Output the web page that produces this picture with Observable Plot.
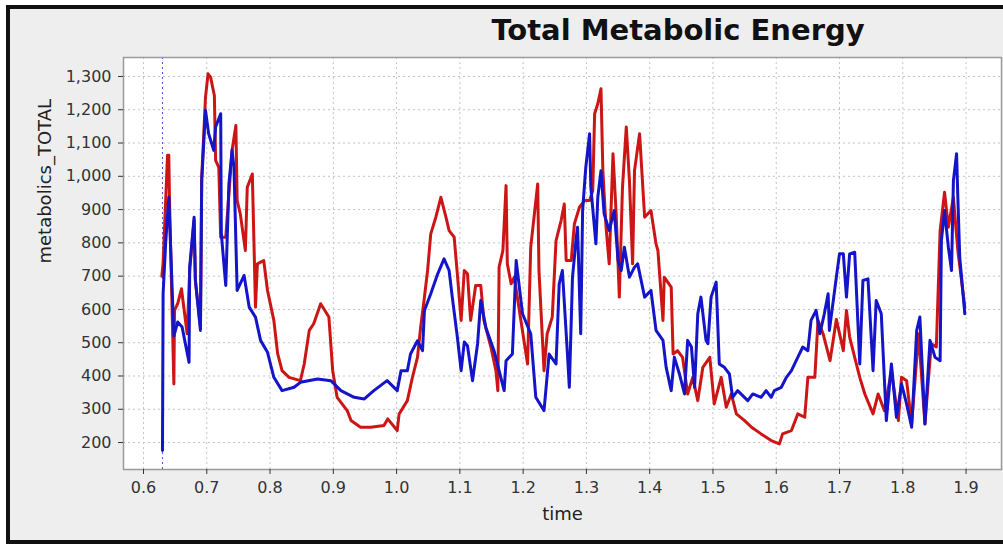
<!DOCTYPE html>
<html>
<head>
<meta charset="utf-8">
<script src="https://cdn.jsdelivr.net/npm/d3@7"></script>
<script src="https://cdn.jsdelivr.net/npm/@observablehq/plot@0.6"></script>
<style>
  html, body { margin: 0; padding: 0; background: #ffffff; overflow: hidden; }
  #wrap { position: relative; width: 1003px; height: 544px; overflow: hidden; }
  #panel { position: absolute; left: 6px; top: 5px; width: 1010px; height: 531px;
           border-left: 4px solid #111; border-top: 4px solid #111; border-bottom: 4px solid #111;
           background: #eeeeee; }
  #title { position: absolute; left: 678px; top: 16px; transform: translateX(-50%);
           font-family: "DejaVu Sans", sans-serif; font-weight: bold; font-size: 29px;
           line-height: 29px; color: #111; white-space: nowrap; }
  #chart { position: absolute; left: 0; top: 0; }
</style>
</head>
<body>
<div id="wrap">
  <div id="panel"></div>
  <div id="title">Total Metabolic Energy</div>
  <div id="chart"></div>
</div>
<script>
const xTicks = [0.6, 0.7, 0.8, 0.9, 1.0, 1.1, 1.2, 1.3, 1.4, 1.5, 1.6, 1.7, 1.8, 1.9];
const yTicks = [200, 300, 400, 500, 600, 700, 800, 900, 1000, 1100, 1200, 1300];
const markerTime = [0.63];

// [time, metabolics_TOTAL]
const redSeries = [
  [0.629,700],[0.631,740],[0.638,1063],[0.640,1063],[0.641,937],[0.648,376],[0.649,597],[0.654,617],
  [0.660,662],[0.669,527],[0.673,717],[0.680,867],[0.682,687],[0.690,547],[0.692,997],[0.698,1238],
  [0.702,1308],[0.706,1298],[0.712,1243],[0.714,1048],[0.719,1027],[0.722,817],[0.730,817],[0.740,1078],
  [0.746,1153],[0.748,927],[0.753,887],[0.761,777],[0.764,967],[0.772,1007],[0.777,607],[0.780,737],
  [0.790,747],[0.796,657],[0.806,567],[0.812,467],[0.819,416],[0.830,396],[0.848,386],[0.854,436],
  [0.862,537],[0.869,557],[0.880,617],[0.893,577],[0.899,416],[0.906,336],[0.922,296],[0.928,266],
  [0.943,246],[0.959,246],[0.980,251],[0.986,271],[1.001,236],[1.004,286],[1.017,326],[1.025,396],
  [1.033,456],[1.038,546],[1.044,637],[1.049,717],[1.054,827],[1.062,877],[1.070,937],[1.078,877],
  [1.083,837],[1.091,817],[1.096,707],[1.102,567],[1.107,717],[1.112,707],[1.117,567],[1.125,672],
  [1.133,672],[1.138,567],[1.149,487],[1.157,416],[1.160,356],[1.162,727],[1.168,777],[1.173,972],
  [1.175,737],[1.181,677],[1.186,697],[1.194,597],[1.207,436],[1.212,787],[1.223,977],[1.225,717],
  [1.233,416],[1.238,527],[1.246,577],[1.252,807],[1.260,867],[1.265,917],[1.268,747],[1.276,747],
  [1.281,857],[1.289,907],[1.297,927],[1.305,927],[1.310,957],[1.313,1188],[1.318,1218],[1.323,1263],
  [1.326,1017],[1.331,847],[1.336,737],[1.342,1068],[1.347,887],[1.352,637],[1.357,967],[1.363,1148],
  [1.368,987],[1.373,737],[1.376,1017],[1.384,1128],[1.392,877],[1.402,897],[1.410,797],[1.413,777],
  [1.421,567],[1.423,697],[1.434,667],[1.437,466],[1.444,476],[1.452,456],[1.460,346],[1.468,396],
  [1.476,326],[1.484,426],[1.495,456],[1.502,316],[1.513,396],[1.521,306],[1.529,346],[1.537,286],
  [1.550,266],[1.561,246],[1.576,226],[1.592,206],[1.605,196],[1.610,226],[1.624,236],[1.634,286],
  [1.645,276],[1.650,396],[1.661,396],[1.666,567],[1.674,527],[1.685,446],[1.695,570],[1.706,476],
  [1.711,597],[1.716,517],[1.724,456],[1.732,396],[1.740,346],[1.753,286],[1.761,346],[1.771,296],
  [1.782,416],[1.793,266],[1.798,396],[1.806,386],[1.814,256],[1.825,527],[1.835,256],[1.845,497],
  [1.853,487],[1.859,837],[1.866,952],[1.872,847],[1.880,937],[1.887,777],[1.898,607]
];

const blueSeries = [
  [0.630,176],[0.631,647],[0.635,798],[0.640,937],[0.648,520],[0.654,562],[0.661,547],[0.672,441],
  [0.673,727],[0.680,877],[0.682,687],[0.690,537],[0.692,987],[0.698,1198],[0.703,1128],[0.711,1078],
  [0.714,1148],[0.722,1188],[0.723,828],[0.730,672],[0.735,977],[0.740,1078],[0.743,1027],[0.748,657],
  [0.759,702],[0.767,607],[0.777,577],[0.785,507],[0.796,471],[0.806,396],[0.819,356],[0.838,366],
  [0.848,381],[0.875,391],[0.896,386],[0.912,356],[0.933,336],[0.949,331],[0.964,356],[0.985,386],
  [1.001,356],[1.007,416],[1.017,416],[1.022,466],[1.033,506],[1.041,476],[1.044,597],[1.054,647],
  [1.065,707],[1.075,752],[1.083,717],[1.088,637],[1.096,517],[1.102,416],[1.107,502],[1.112,491],
  [1.120,386],[1.128,497],[1.133,627],[1.141,546],[1.154,476],[1.170,356],[1.173,446],[1.183,466],
  [1.189,747],[1.194,667],[1.199,587],[1.212,527],[1.220,336],[1.233,296],[1.241,466],[1.252,436],
  [1.257,677],[1.262,717],[1.270,466],[1.273,366],[1.278,697],[1.284,817],[1.286,847],[1.291,527],
  [1.294,897],[1.299,1027],[1.305,1128],[1.307,967],[1.315,797],[1.318,937],[1.323,1017],[1.328,887],
  [1.336,837],[1.344,897],[1.350,747],[1.355,717],[1.360,787],[1.368,697],[1.376,727],[1.381,737],
  [1.392,637],[1.402,657],[1.410,537],[1.421,507],[1.426,426],[1.434,356],[1.439,456],[1.447,406],
  [1.455,346],[1.460,507],[1.466,487],[1.471,366],[1.476,587],[1.481,637],[1.489,507],[1.492,497],
  [1.497,637],[1.505,682],[1.510,436],[1.518,426],[1.526,406],[1.531,336],[1.539,356],[1.555,326],
  [1.563,346],[1.576,336],[1.584,356],[1.592,336],[1.597,356],[1.608,366],[1.616,396],[1.624,416],
  [1.634,456],[1.642,487],[1.650,476],[1.655,567],[1.663,597],[1.669,527],[1.676,587],[1.682,647],
  [1.684,537],[1.695,697],[1.700,767],[1.706,767],[1.711,637],[1.716,767],[1.724,772],[1.732,436],
  [1.737,687],[1.745,692],[1.753,416],[1.758,627],[1.766,587],[1.774,266],[1.782,436],[1.790,276],
  [1.798,376],[1.806,316],[1.814,246],[1.822,537],[1.827,577],[1.835,256],[1.843,507],[1.851,456],
  [1.859,446],[1.861,807],[1.866,897],[1.872,787],[1.877,717],[1.880,987],[1.885,1068],[1.887,937],
  [1.890,757],[1.898,587]
];

const gridStyle = {stroke: "#c4c4c4", strokeOpacity: 1, strokeDasharray: "2,3", strokeWidth: 1};

const chart = Plot.plot({
  width: 1003,
  height: 544,
  marginLeft: 123,
  marginTop: 57,
  marginRight: 2,
  marginBottom: 75,
  style: {background: "transparent", fontFamily: "DejaVu Sans, sans-serif", fontSize: "16px", color: "#333"},
  x: {domain: [0.5684, 1.956]},
  y: {domain: [119, 1357]},
  marks: [
    Plot.frame({fill: "white", stroke: null}),
    Plot.gridX(xTicks, gridStyle),
    Plot.gridY(yTicks, gridStyle),
    Plot.ruleX(markerTime, {stroke: "#5050e0", strokeDasharray: "2,3", strokeWidth: 1}),
    Plot.line(redSeries, {x: d => d[0], y: d => d[1], stroke: "#cc1515", strokeWidth: 3, strokeLinejoin: "round"}),
    Plot.line(blueSeries, {x: d => d[0], y: d => d[1], stroke: "#1414c8", strokeWidth: 3, strokeLinejoin: "round"}),
    Plot.frame({stroke: "#9a9a9a", strokeWidth: 1.5}),
    Plot.axisX(xTicks, {tickSize: 5, tickPadding: 7, tickFormat: d3.format(".1f"), label: null}),
    Plot.axisY(yTicks, {tickSize: 5, tickPadding: 7, tickFormat: d3.format(","), label: null}),
    Plot.text(["time"], {text: d => d, frameAnchor: "bottom", dy: 50, fontSize: 18, fill: "#222"}),
    Plot.text(["metabolics_TOTAL"], {text: d => d, frameAnchor: "left", dx: -78, rotate: -90, fontSize: 18, fill: "#222"})
  ]
});
document.getElementById("chart").appendChild(chart);
</script>
</body>
</html>
